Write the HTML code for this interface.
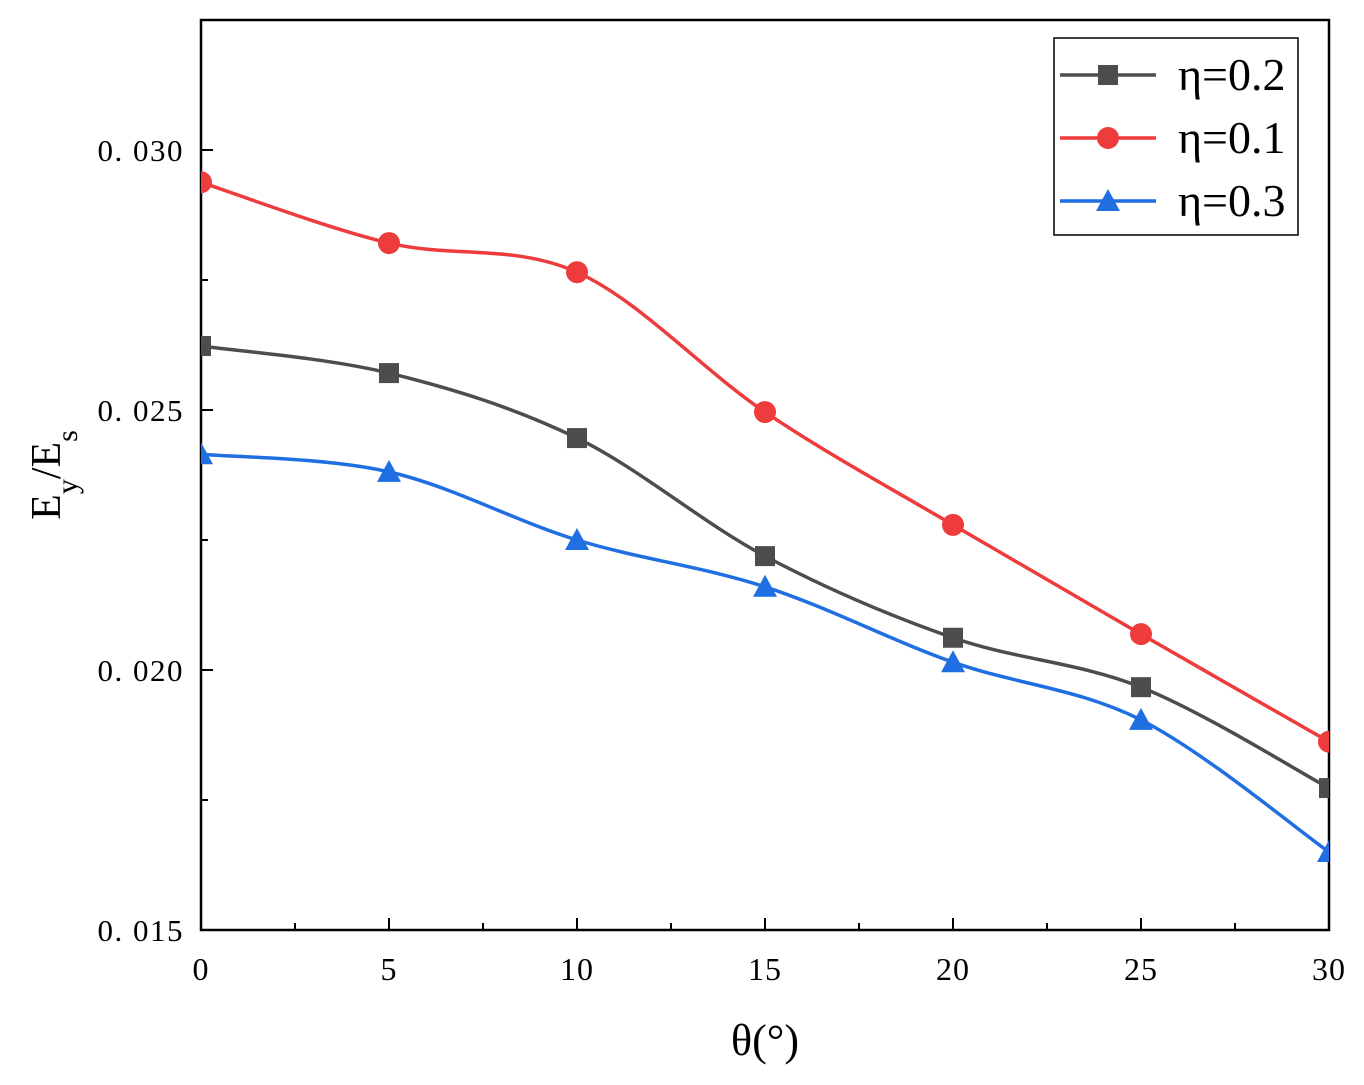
<!DOCTYPE html>
<html><head><meta charset="utf-8"><style>
html,body{margin:0;padding:0;background:#fff;}
svg{display:block;font-family:"Liberation Serif",serif;}
</style></head><body>
<svg id="chart" width="1364" height="1085"></svg>
<script>
const categories=[0,5,10,15,20,25,30];
const seriesNames=["η=0.2","η=0.1","η=0.3"];
const eta02=[0.02623,0.02571,0.02446,0.02219,0.02062,0.01967,0.01773];
const eta01=[0.02938,0.02821,0.02765,0.02496,0.02279,0.02069,0.01862];
const eta03=[0.02415,0.02381,0.0225,0.0216,0.02015,0.01904,0.0165];
const xTicks=[0,5,10,15,20,25,30];
const yTicks=[0.015,0.020,0.025,0.030];
const yTickLabels=["0. 015","0. 020","0. 025","0. 030"];

const NS="http://www.w3.org/2000/svg";
const svg=document.getElementById('chart');
const L=201,R=1329,T=20,B=930;
const xMin=0,xMax=30,yMin=0.015,yMax=0.0325;
const X=v=>L+(v-xMin)/(xMax-xMin)*(R-L);
const Y=v=>B-(v-yMin)/(yMax-yMin)*(B-T);
function mk(tag,attrs,parent){const e=document.createElementNS(NS,tag);for(const k in attrs)e.setAttribute(k,attrs[k]);(parent||svg).appendChild(e);return e;}

const axG=mk('g',{});


for(let i=0;i<xTicks.length;i++){
  const v=xTicks[i];
  mk('line',{x1:X(v),x2:X(v),y1:B,y2:B-12,stroke:'#000','stroke-width':2},axG);
  if(i<xTicks.length-1){const m=(v+xTicks[i+1])/2;mk('line',{x1:X(m),x2:X(m),y1:B,y2:B-7,stroke:'#000','stroke-width':2},axG);}
  const t=mk('text',{x:X(v),y:980,'text-anchor':'middle','font-size':32,'letter-spacing':1,fill:'#000'});
  t.textContent=v;
  
  
}
for(let i=0;i<yTicks.length;i++){
  const v=yTicks[i];
  mk('line',{x1:L,x2:L+12,y1:Y(v),y2:Y(v),stroke:'#000','stroke-width':2},axG);
  const m=v+0.0025;
  if(m<yMax) mk('line',{x1:L,x2:L+7,y1:Y(m),y2:Y(m),stroke:'#000','stroke-width':2},axG);
  const t=mk('text',{x:184,y:Y(v)+11,'text-anchor':'end','font-size':31,'letter-spacing':1.5,fill:'#000'});
  t.textContent=yTickLabels[i];
  
  
}
mk('rect',{x:L,y:T,width:R-L,height:B-T,fill:'none',stroke:'#000','stroke-width':2.5},axG);

const xt=mk('text',{x:765,y:1055,'text-anchor':'middle','font-size':44,fill:'#000'});
xt.textContent='θ(°)';


const yt=mk('text',{transform:'translate(60,475) rotate(-90)','text-anchor':'middle','font-size':42,fill:'#000'});
yt.innerHTML='E<tspan baseline-shift="sub" font-size="30">y</tspan>/E<tspan baseline-shift="sub" font-size="30">s</tspan>';



function smooth(pts){
  let d=`M${pts[0][0]},${pts[0][1]}`;
  for(let i=0;i<pts.length-1;i++){
    const p0=pts[Math.max(0,i-1)],p1=pts[i],p2=pts[i+1],p3=pts[Math.min(pts.length-1,i+2)];
    const c1=[p1[0]+(p2[0]-p0[0])/6,p1[1]+(p2[1]-p0[1])/6];
    const c2=[p2[0]-(p3[0]-p1[0])/6,p2[1]-(p3[1]-p1[1])/6];
    d+=` C${c1[0]},${c1[1]} ${c2[0]},${c2[1]} ${p2[0]},${p2[1]}`;
  }
  return d;
}
function marker(g,type,x,y,c){
  if(type==='square') return mk('rect',{x:x-10,y:y-10,width:20,height:20,fill:c},g);
  if(type==='circle') return mk('circle',{cx:x,cy:y,r:11,fill:c},g);
  return mk('polygon',{points:`${x},${y-12} ${x+12},${y+10} ${x-12},${y+10}`,fill:c},g);
}
const series=[[eta02,'#4d4d4d','square','series-eta-0-2'],[eta01,'#ee3b3b','circle','series-eta-0-1'],[eta03,'#1f6fe3','triangle','series-eta-0-3']];
const clip=mk('clipPath',{id:'clp'});mk('rect',{x:L,y:T,width:R-L,height:B-T},clip);
series.forEach(([vals,c,m,name])=>{
  const g=mk('g',{'clip-path':'url(#clp)'});
  
  
  const pts=categories.map((x,i)=>[X(x),Y(vals[i])]);
  mk('path',{d:smooth(pts),fill:'none',stroke:c,'stroke-width':3.5},g);
  pts.forEach(p=>{const e=marker(g,m,p[0],p[1],c);});
});

const lg=mk('g',{});


mk('rect',{x:1054,y:38,width:244,height:197,fill:'#fff',stroke:'#000','stroke-width':1.5},lg);
[0,1,2].forEach((si,k)=>{
  const [vals,c,m]=series[si];
  const y=75+k*63;
  const e=mk('g',{},lg);
  
  
  mk('line',{x1:1060,x2:1156,y1:y,y2:y,stroke:c,'stroke-width':3.5},e);
  marker(e,m,1108,y,c);
  const t=mk('text',{x:1178,y:y+15,'font-size':46,fill:'#000'},e);
  t.textContent=seriesNames[si];
});
</script>
</body></html>
